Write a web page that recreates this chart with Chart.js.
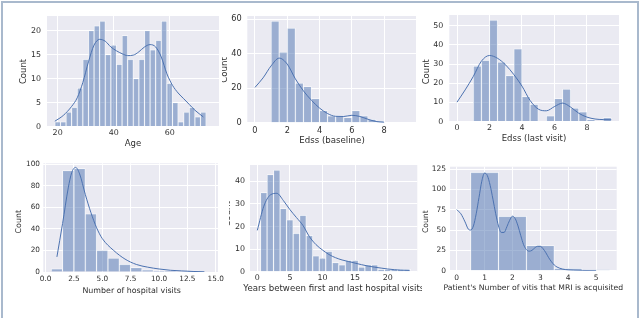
<!DOCTYPE html>
<html>
<head>
<meta charset="utf-8">
<script src="https://cdn.jsdelivr.net/npm/chart.js@4.4.1/dist/chart.umd.min.js"></script>
<style>
  html, body { margin: 0; padding: 0; background: #fff; }
  body { width: 640px; height: 318px; position: relative; overflow: hidden; }
  #frame { position: absolute; left: 1px; top: 1px; width: 634px; height: 330px; border: 2px solid #a9b9cd; border-bottom: none; }
  canvas { position: absolute; }
</style>
</head>
<body>
<div id="frame"></div>
<canvas id="c1"></canvas>
<canvas id="c2"></canvas>
<canvas id="c3"></canvas>
<canvas id="c4"></canvas>
<canvas id="c5"></canvas>
<canvas id="c6"></canvas>
<script>
// --- data ---
const ageBins = [20, 22, 24, 26, 28, 30, 32, 34, 36, 38, 40, 42, 44, 46, 48, 50, 52, 54, 56, 58, 60, 62, 64, 66, 68, 70, 72];
const ageCounts = [1, 1, 3, 4, 8, 14, 20, 21, 22, 15, 17, 13, 19, 14, 10, 14, 20, 16, 18, 22, 9, 5, 1, 3, 4, 2, 3];
const ageKdeX = [19, 22, 25, 27, 29, 31, 33, 35, 37, 39, 41, 43, 45, 47, 49, 51, 53, 55, 57, 59, 61, 63, 65, 67, 69, 72];
const ageKdeY = [1.1, 2.3, 4.2, 6, 9.2, 13.5, 17, 18.2, 17.8, 16.6, 15.8, 15.2, 14.8, 14.9, 15.6, 16.6, 17.1, 16.6, 14.5, 11, 8.6, 7, 5.8, 4.6, 3.4, 2];
const ageTicksX = [20, 40, 60];
const ageTicksY = [0, 5, 10, 15, 20];

const edssBins = [0.25, 0.75, 1.25, 1.75, 2.25, 2.75, 3.25, 3.75, 4.25, 4.75, 5.25, 5.75, 6.25, 6.75, 7.25, 7.75, 8.25, 8.75, 9.25];
const baseCounts = [0, 0, 59, 41, 55, 23, 21, 14, 7, 4, 4, 3, 7, 4, 2, 1, 0, 0, 0];
const baseKdeX = [0, 0.5, 1, 1.5, 2, 2.5, 3, 3.5, 4, 4.5, 5, 5.5, 6, 6.5, 7, 7.5, 8];
const baseKdeY = [20.5, 26, 33, 37.5, 34, 25.5, 18.5, 13, 8.5, 5.3, 3.7, 3.6, 4.3, 3.6, 2, 0.7, 0.2];
const edssTicksX = [0, 2, 4, 6, 8];
const baseTicksY = [0, 20, 40, 60];

const lastCounts = [0, 0, 29, 32, 53, 31, 24, 38, 13, 9, 0, 3, 12, 17, 7, 5, 1, 0, 2];
const lastKdeX = [0, 0.5, 1, 1.5, 2, 2.5, 3, 3.5, 4, 4.5, 5, 5.5, 6, 6.5, 7, 7.5, 8, 8.5, 9, 9.5];
const lastKdeY = [10.1, 16.5, 23.5, 31.5, 34.5, 33, 29.5, 24.5, 18.5, 11, 6.5, 5.6, 7.8, 9.6, 7.5, 4.3, 2.3, 1.3, 1, 0.9];
const lastTicksY = [0, 10, 20, 30, 40, 50];

const visitBins = [1, 2, 3, 4, 5, 6, 7, 8, 9, 10, 11, 12, 13, 14];
const visitCounts = [3, 94, 96, 54, 20, 13, 7, 4, 2, 1, 1, 0, 1, 0];
const visitKdeX = [1, 1.5, 2, 2.3, 2.65, 3, 3.5, 4, 4.5, 5, 6, 7, 8, 9, 10, 11, 12, 13, 14];
const visitKdeY = [14, 45, 78, 92, 97, 91, 72, 55, 41, 31, 20, 12, 7, 4.5, 2.8, 1.6, 1, 0.5, 0.2];
const visitTicksX = [0, 2.5, 5, 7.5, 10, 12.5, 15];
const visitTicksY = [0, 20, 40, 60, 80, 100];

const yearBins = [1, 2, 3, 4, 5, 6, 7, 8, 9, 10, 11, 12, 13, 14, 15, 16, 17, 18, 19, 20, 21, 22, 23];
const yearCounts = [35, 43, 45, 28, 23, 17, 25, 16, 7, 6, 9, 4, 3, 5, 5, 2, 3, 3, 1, 1, 1, 1, 1];
const yearKdeX = [0, 1, 2, 3, 4, 5, 6, 7, 8, 9, 10, 11, 12, 13, 14, 15, 16, 17, 18, 19, 20, 21, 22, 23.3];
const yearKdeY = [18.3, 29, 34, 34.7, 31.5, 27.5, 24, 20.5, 15.5, 12, 9.6, 7.6, 6.2, 5.2, 4.5, 3.8, 3.1, 2.5, 2, 1.6, 1.2, 0.9, 0.7, 0.6];
const yearTicksX = [0, 5, 10, 15, 20];
const yearTicksY = [0, 10, 20, 30, 40];

const mriBins = [1, 2, 3, 4, 5];
const mriCounts = [121, 67, 31, 3, 1];
const mriKdeX = [0, 0.15, 0.3, 0.42, 0.5, 0.6, 0.7, 0.8, 0.9, 1, 1.1, 1.2, 1.3, 1.4, 1.5, 1.6, 1.7, 1.8, 1.9, 2, 2.1, 2.2, 2.3, 2.4, 2.5, 2.6, 2.7, 2.8, 2.9, 3, 3.1, 3.2, 3.3, 3.4, 3.5, 3.6, 3.8, 4, 4.2, 4.5, 5];
const mriKdeY = [75, 70, 60, 51, 50, 55, 70, 90, 110, 120, 117, 105, 88, 70, 55, 47, 47, 54, 62, 67, 64, 55, 43, 32, 26, 24, 25, 28, 30, 30, 27, 22, 16, 11, 7, 4.5, 2, 1, 0.6, 0.3, 0.1];
const mriTicksX = [0, 1, 2, 3, 4, 5];
const mriTicksY = [0, 25, 50, 75, 100, 125];

// --- look ---
const FONT = 'DejaVu Sans';
const INK = '#2e2e2e';
const PANEL = '#eaeaf2';
const BAR = 'rgba(76, 114, 176, 0.5)';
const EDGE = 'rgba(255, 255, 255, 0.85)';
const LINE = '#4c72b0';

// box = canvas on the page, area = plot rectangle on the page (l, t, r, b)
const panels = [
  { id: 'c1', box: [3, 3, 219, 155], area: [47, 16, 219, 126.5], xRange: [16.2, 77.6], yMax: 23.07,
    bins: ageBins, counts: ageCounts, kdeX: ageKdeX, kdeY: ageKdeY, xTicks: ageTicksX, yTicks: ageTicksY,
    xLabel: 'Age', xAt: [133, 143.5], yAt: [24, 71.5], tick: 7.9, label: 8.5, yGap: 6, xDy: 6.2, digits: 0 },
  { id: 'c2', box: [222, 3, 198, 155], area: [247.3, 16, 416, 122.7], xRange: [-0.475, 9.975], yMax: 61.95,
    bins: edssBins, counts: baseCounts, kdeX: baseKdeX, kdeY: baseKdeY, xTicks: edssTicksX, yTicks: baseTicksY,
    xLabel: 'Edss (baseline)', xAt: [332, 140.7], yAt: [225, 70], tick: 8.2, label: 8.65, yGap: 5.6, xDy: 8, digits: 0 },
  { id: 'c3', box: [420, 3, 216, 155], area: [449.3, 15, 619, 121.5], xRange: [-0.475, 9.975], yMax: 55.65,
    bins: edssBins, counts: lastCounts, kdeX: lastKdeX, kdeY: lastKdeY, xTicks: edssTicksX, yTicks: lastTicksY,
    xLabel: 'Edss (last visit)', xAt: [534, 138.3], yAt: [426.7, 71.7], tick: 7.9, label: 8.5, yGap: 6, xDy: 6.8, digits: 0 },
  { id: 'c4', box: [3, 158, 223, 159], area: [43.3, 163.3, 218, 272], xRange: [-0.2, 15.2], yMax: 100.8,
    bins: visitBins, counts: visitCounts, kdeX: visitKdeX, kdeY: visitKdeY, xTicks: visitTicksX, yTicks: visitTicksY,
    xLabel: 'Number of hospital visits', xAt: [131.7, 290.7], yAt: [19.3, 221.7], tick: 7.3, label: 7.9, yGap: 3.3, xDy: 7.3, digits: 1 },
  // this panel sits under its neighbour in the source, so its "Count" is mostly cut off
  { id: 'c5', box: [229, 158, 193, 159], area: [250, 165, 417.3, 271.7], xRange: [-1.12, 24.54], yMax: 47.25,
    bins: yearBins, counts: yearCounts, kdeX: yearKdeX, kdeY: yearKdeY, xTicks: yearTicksX, yTicks: yearTicksY,
    xLabel: 'Years between first and last hospital visits', xAt: [333.8, 288.3], yAt: [228, 214], tick: 7.9, label: 8.6, yGap: 5, xDy: 6.6, digits: 0 },
  { id: 'c6', box: [422, 158, 214, 159], area: [450, 166.7, 616.7, 270.7], xRange: [-0.24, 5.74], yMax: 127.9,
    bins: mriBins, counts: mriCounts, kdeX: mriKdeX, kdeY: mriKdeY, xTicks: mriTicksX, yTicks: mriTicksY,
    xLabel: "Patient's Number of vitis that MRI is acquisited", xAt: [533.3, 287.7], yAt: [426, 221.7], tick: 7.5, label: 7.7, yGap: 4, xDy: 7, digits: 0 }
];

const panelBg = {
  id: 'panelBg',
  beforeDraw(chart) {
    const { ctx, chartArea: a } = chart;
    ctx.save();
    ctx.fillStyle = PANEL;
    ctx.fillRect(a.left, a.top, a.right - a.left, a.bottom - a.top);
    ctx.restore();
  }
};

// axis titles drawn by hand so the long ones can run past the plot like in the source
const axisTitles = {
  id: 'axisTitles',
  afterDraw(chart, args, o) {
    const ctx = chart.ctx;
    ctx.save();
    ctx.fillStyle = INK;
    ctx.font = `${o.size}px ${FONT}`;
    ctx.textAlign = 'center';
    ctx.textBaseline = 'middle';
    ctx.fillText(o.x, o.xAt[0], o.xAt[1]);
    ctx.translate(o.yAt[0], o.yAt[1]);
    ctx.rotate(-Math.PI / 2);
    ctx.fillText('Count', 0, 0);
    ctx.restore();
  }
};

function drawPanel(p) {
  const [cx, cy, cw, ch] = p.box;
  const [l, t, r, b] = p.area;
  const canvas = document.getElementById(p.id);
  canvas.width = cw;
  canvas.height = ch;
  canvas.style.left = cx + 'px';
  canvas.style.top = cy + 'px';

  const tickFont = { family: FONT, size: p.tick };
  const grid = { color: '#ffffff', lineWidth: 1, drawTicks: false, offset: false };

  new Chart(canvas, {
    type: 'bar',
    data: {
      datasets: [
        {
          type: 'line',
          data: p.kdeX.map((x, i) => ({ x, y: p.kdeY[i] })),
          borderColor: LINE,
          borderWidth: 1,
          pointRadius: 0,
          cubicInterpolationMode: 'monotone',
          order: 0
        },
        {
          type: 'bar',
          data: p.bins.map((x, i) => ({ x, y: p.counts[i] })),
          backgroundColor: BAR,
          borderColor: EDGE,
          borderWidth: { top: 0.75, left: 0.75, right: 0.75, bottom: 0 },
          barPercentage: 1,
          categoryPercentage: 1,
          order: 1
        }
      ]
    },
    options: {
      responsive: false,
      animation: false,
      events: [],
      layout: { padding: { left: 0, bottom: 0, top: t - cy, right: cx + cw - r } },
      plugins: {
        legend: { display: false },
        tooltip: { enabled: false },
        axisTitles: { x: p.xLabel, size: p.label, xAt: [p.xAt[0] - cx, p.xAt[1] - cy], yAt: [p.yAt[0] - cx, p.yAt[1] - cy] }
      },
      scales: {
        x: {
          type: 'linear',
          min: p.xRange[0],
          max: p.xRange[1],
          offset: false,
          grid,
          border: { display: false },
          ticks: {
            font: tickFont,
            color: INK,
            padding: p.xDy - p.tick * 0.6,
            autoSkip: false,
            maxRotation: 0,
            callback: (v) => Number(v).toFixed(p.digits)
          },
          afterBuildTicks: (s) => { s.ticks = p.xTicks.map((v) => ({ value: v })); },
          afterFit: (s) => { s.height = cy + ch - b; s.paddingLeft = 0; s.paddingRight = 0; }
        },
        y: {
          min: 0,
          max: p.yMax,
          grid,
          border: { display: false },
          ticks: { font: tickFont, color: INK, padding: p.yGap, callback: (v) => String(v) },
          afterBuildTicks: (s) => { s.ticks = p.yTicks.map((v) => ({ value: v })); },
          afterFit: (s) => { s.width = l - cx; s.paddingTop = 0; s.paddingBottom = 0; }
        }
      }
    },
    plugins: [panelBg, axisTitles]
  });
}

panels.forEach(drawPanel);
</script>
</body>
</html>
